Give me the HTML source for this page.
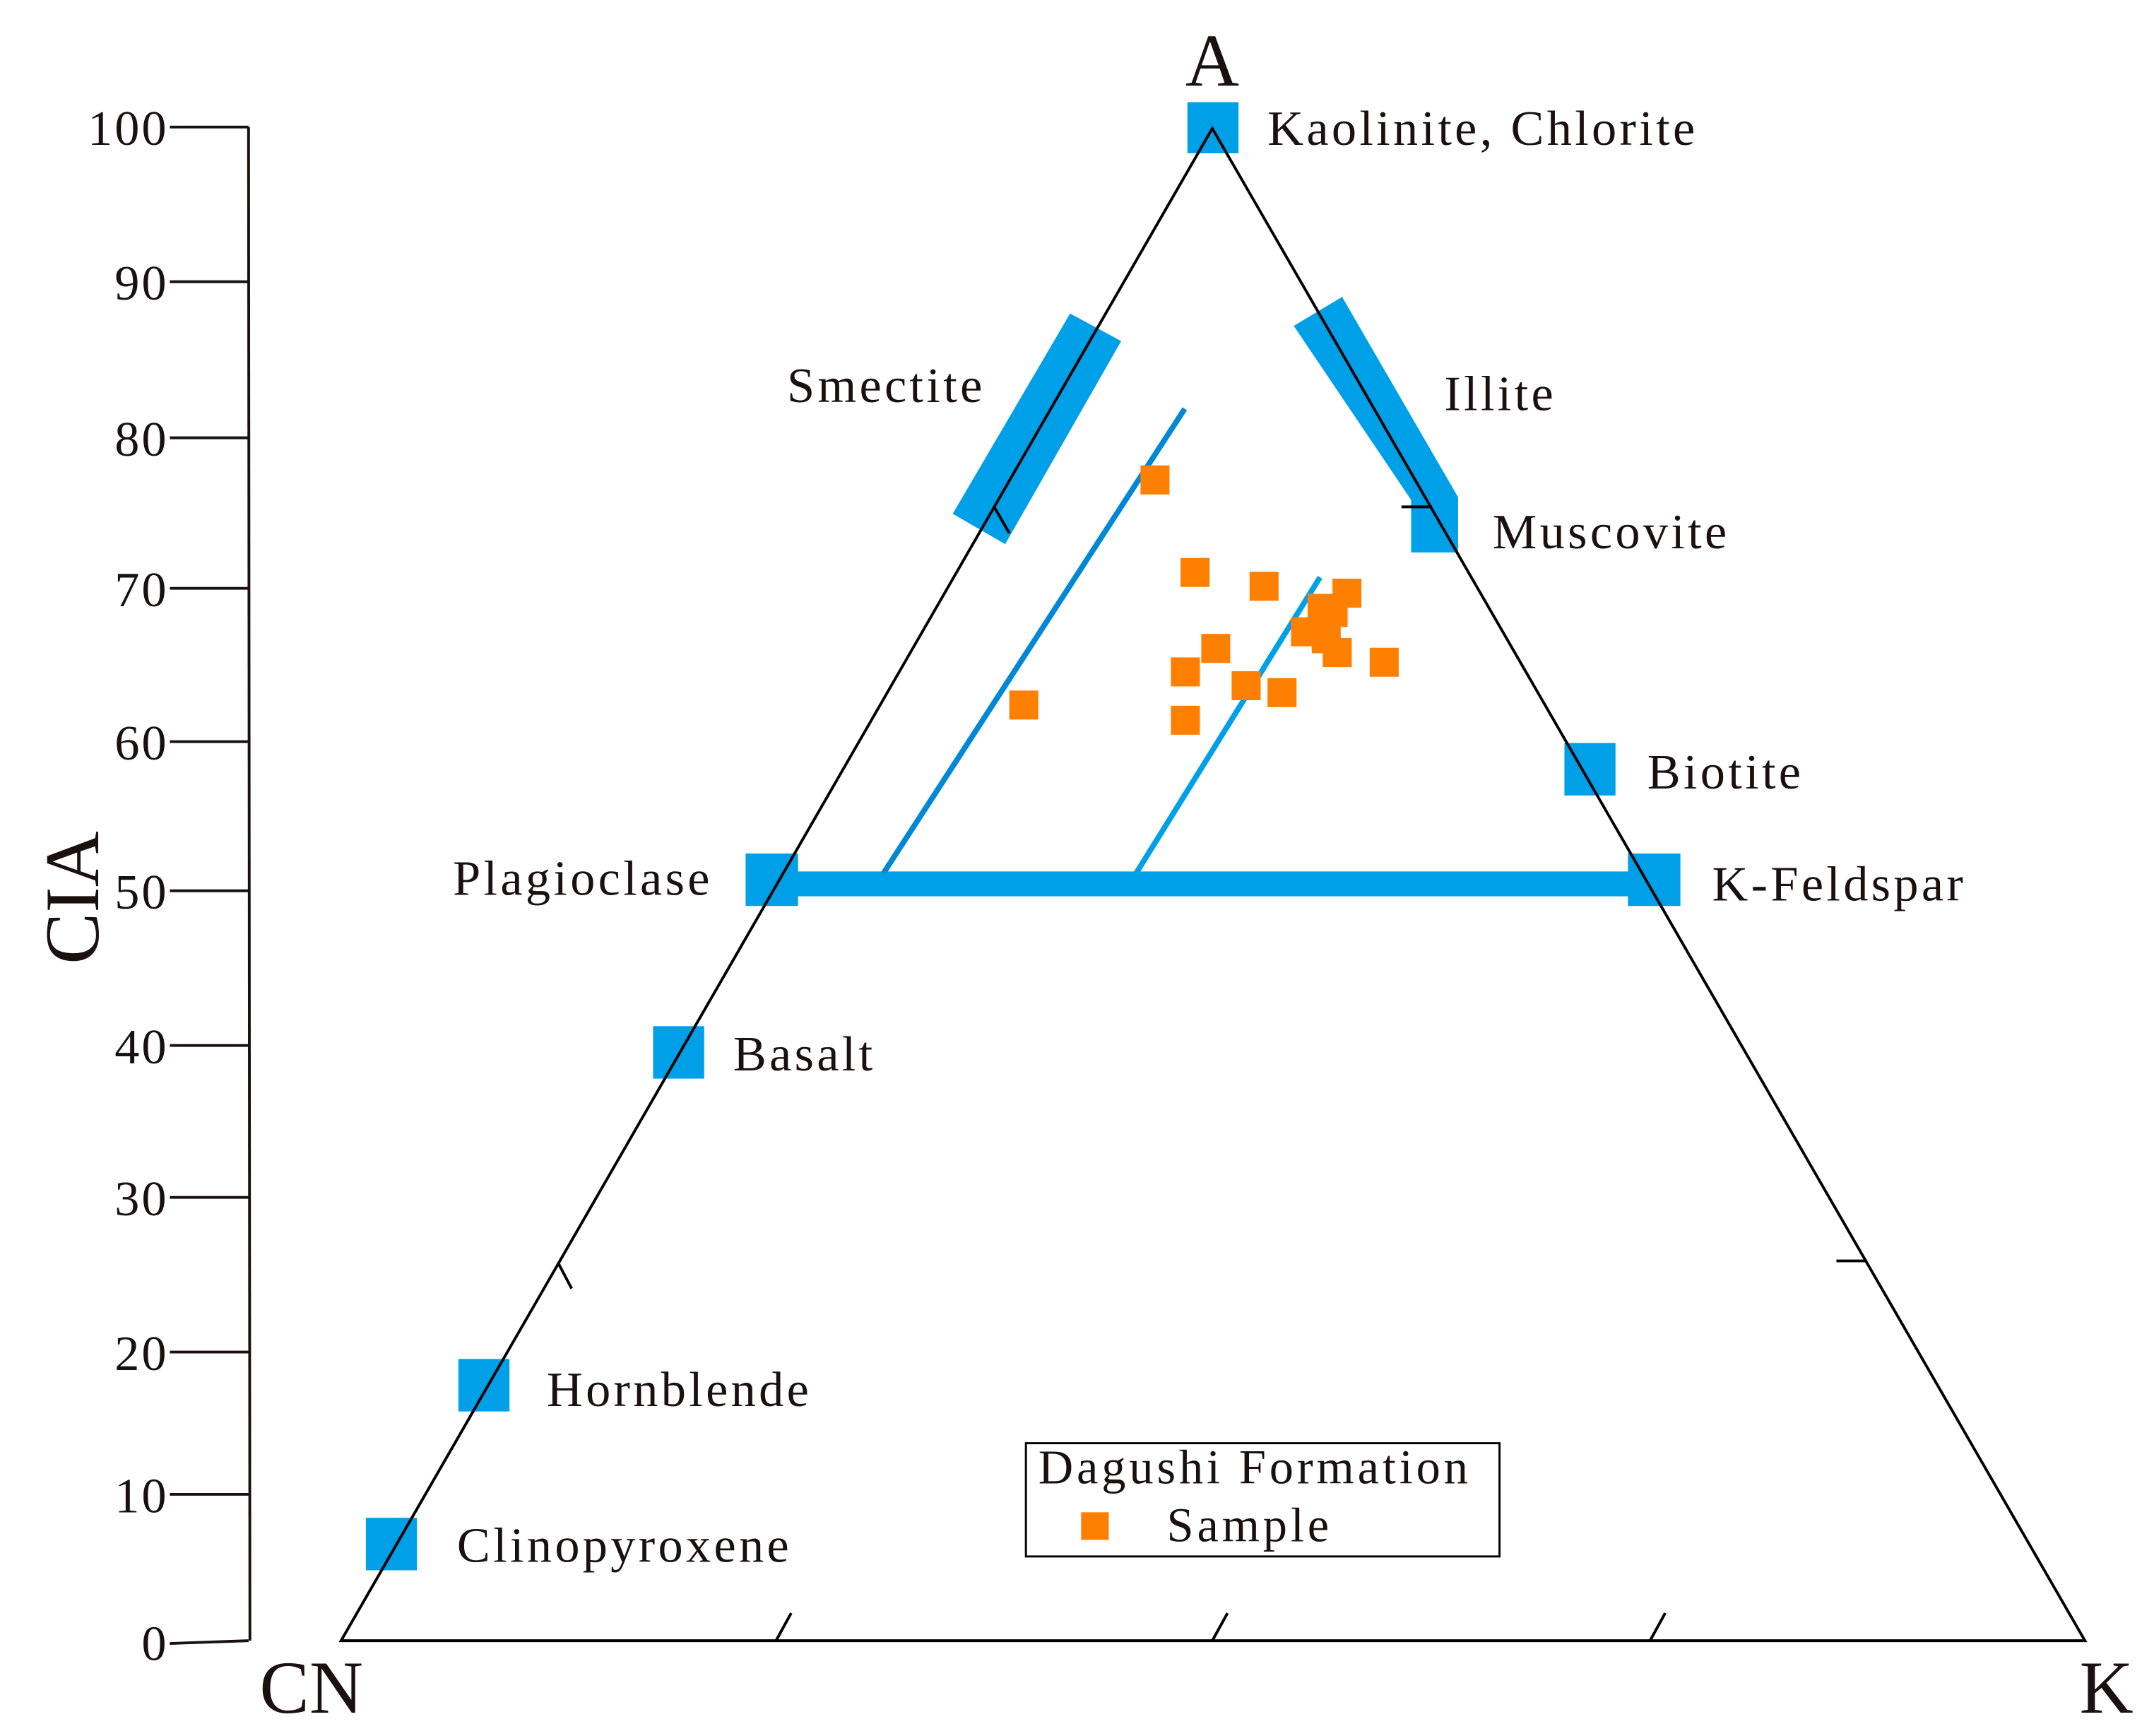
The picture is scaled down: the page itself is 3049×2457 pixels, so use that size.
<!DOCTYPE html>
<html><head><meta charset="utf-8"><style>html,body{margin:0;padding:0;background:#fff}svg{display:block}</style></head>
<body>
<svg width="3049" height="2457" viewBox="0 0 1560 1257" preserveAspectRatio="none" xmlns="http://www.w3.org/2000/svg" font-family="Liberation Serif, serif" fill="#1a1010">
<rect width="1560" height="1257" fill="#fff"/>
<g stroke="#1a1010" stroke-width="2" fill="none">
<line x1="180" y1="92" x2="181" y2="1188"/>
<line x1="123" y1="92" x2="180" y2="92"/>
<line x1="123" y1="204" x2="180" y2="204"/>
<line x1="123" y1="317" x2="180" y2="317"/>
<line x1="123" y1="426" x2="180" y2="426"/>
<line x1="123" y1="537" x2="180" y2="537"/>
<line x1="123" y1="645" x2="180" y2="645"/>
<line x1="123" y1="757" x2="180" y2="757"/>
<line x1="123" y1="867" x2="180" y2="867"/>
<line x1="123" y1="979" x2="180" y2="979"/>
<line x1="123" y1="1082" x2="180" y2="1082"/>
<line x1="123" y1="1190" x2="180" y2="1188"/>
</g>
<g font-size="36" text-anchor="end" letter-spacing="1.5">
<text x="122" y="105">100</text><text x="122" y="217">90</text><text x="122" y="330">80</text>
<text x="122" y="439">70</text><text x="122" y="550">60</text><text x="122" y="658">50</text>
<text x="122" y="770">40</text><text x="122" y="880">30</text><text x="122" y="992">20</text>
<text x="122" y="1095">10</text><text x="122" y="1202">0</text>
</g>
<text x="52" y="650" font-size="56" text-anchor="middle" transform="rotate(-90 52 650)" dy="19">CIA</text>
<g fill="#00a0e9">
<polygon points="690,372 775,227 812,247 728,394"/>
<polygon points="937,236 972,215 1056,360 1056,400 1022,400 1022,362"/>
<rect x="860" y="74" width="37" height="37"/>
<rect x="1133" y="538" width="37" height="38"/>
<rect x="1179" y="618" width="38" height="38"/>
<rect x="540" y="618" width="38" height="38"/>
<rect x="473" y="743" width="37" height="38"/>
<rect x="332" y="984" width="37" height="38"/>
<rect x="265" y="1099" width="37" height="38"/>
<rect x="558" y="631" width="640" height="18"/>
</g>
<line x1="640" y1="632" x2="858" y2="296" stroke="#0088d6" stroke-width="4"/>
<line x1="823" y1="632" x2="956" y2="418" stroke="#00a0e9" stroke-width="4"/>
<g stroke="#000" stroke-width="2" fill="none">
<polygon points="878,93 247,1188 1510,1188"/>
<line x1="720" y1="367" x2="731" y2="386"/>
<line x1="404" y1="914" x2="414" y2="933"/>
<line x1="1015" y1="367" x2="1037" y2="367"/>
<line x1="1330" y1="913" x2="1352" y2="913"/>
<line x1="562" y1="1188" x2="573" y2="1168"/>
<line x1="878" y1="1188" x2="889" y2="1168"/>
<line x1="1195" y1="1188" x2="1206" y2="1168"/>
</g>
<g fill="#ff8000">
<rect x="826" y="337" width="21" height="21"/><rect x="855" y="404" width="21" height="21"/>
<rect x="905" y="414" width="21" height="21"/><rect x="965" y="419" width="21" height="21"/>
<rect x="947" y="430" width="21" height="21"/><rect x="955" y="433" width="21" height="21"/>
<rect x="935" y="447" width="21" height="21"/><rect x="950" y="452" width="21" height="21"/>
<rect x="958" y="462" width="21" height="21"/><rect x="870" y="459" width="21" height="21"/>
<rect x="848" y="476" width="21" height="21"/><rect x="892" y="486" width="21" height="21"/>
<rect x="918" y="491" width="21" height="21"/><rect x="992" y="469" width="21" height="21"/>
<rect x="731" y="500" width="21" height="21"/><rect x="848" y="511" width="21" height="21"/>
</g>
<g font-size="36" letter-spacing="2.2">
<text x="918" y="105">Kaolinite, Chlorite</text>
<text x="570" y="291">Smectite</text>
<text x="1046" y="297">Illite</text>
<text x="1081" y="397">Muscovite</text>
<text x="1193" y="571">Biotite</text>
<text x="1240" y="652">K-Feldspar</text>
<text x="328" y="648">Plagioclase</text>
<text x="531" y="775">Basalt</text>
<text x="396" y="1018">Hornblende</text>
<text x="331" y="1131">Clinopyroxene</text>
</g>
<g font-size="54">
<text x="878" y="62" text-anchor="middle">A</text>
<text x="188" y="1240">CN</text>
<text x="1506" y="1240">K</text>
</g>
<rect x="743" y="1045" width="343" height="82" fill="none" stroke="#000" stroke-width="1.5"/>
<text x="752" y="1074" font-size="35" letter-spacing="2.5">Dagushi  Formation</text>
<rect x="783" y="1095" width="20" height="20" fill="#ff8000"/>
<text x="845" y="1116" font-size="35" letter-spacing="2.5">Sample</text>
</svg>
</body></html>
